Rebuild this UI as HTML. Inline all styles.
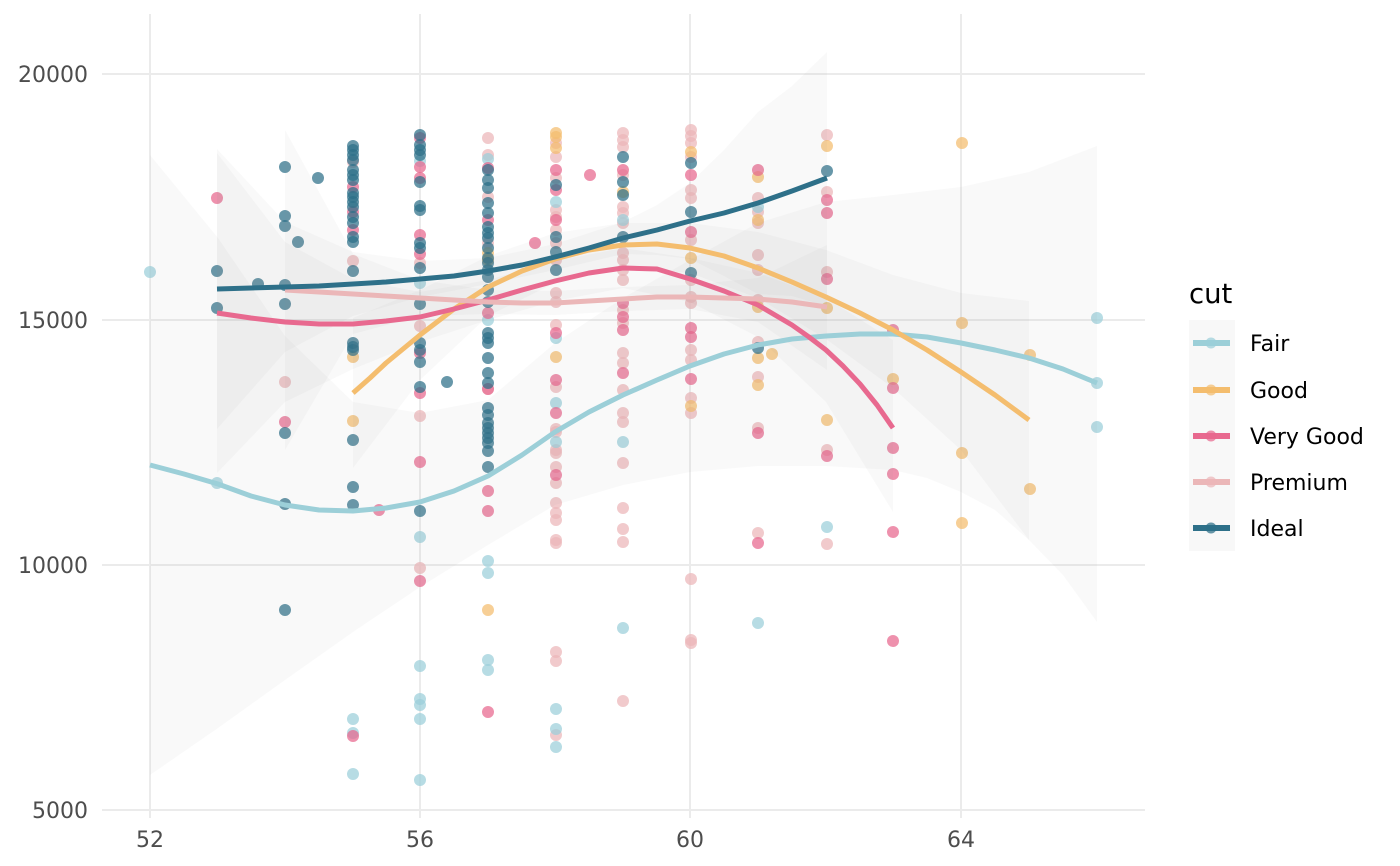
<!DOCTYPE html>
<html><head><meta charset="utf-8"><style>
html,body{margin:0;padding:0;background:#fff;}
svg{display:block;}
text{font-family:"DejaVu Sans","Liberation Sans",sans-serif;}
</style></head><body>
<svg width="1400" height="866" viewBox="0 0 1400 866" xmlns="http://www.w3.org/2000/svg">
<rect width="1400" height="866" fill="#fff"/>
<!-- grid -->
<g stroke="#ebebeb" stroke-width="2">
<line x1="102" y1="74" x2="1145" y2="74"/>
<line x1="102" y1="320" x2="1145" y2="320"/>
<line x1="102" y1="565" x2="1145" y2="565"/>
<line x1="102" y1="810" x2="1145" y2="810"/>
<line x1="150" y1="14" x2="150" y2="818"/>
<line x1="420" y1="14" x2="420" y2="818"/>
<line x1="690" y1="14" x2="690" y2="818"/>
<line x1="961" y1="14" x2="961" y2="818"/>
</g>
<!-- points -->
<g fill-opacity="0.72">
<g fill="#ebb6b8">
<circle cx="285" cy="382" r="6"/><circle cx="353" cy="162" r="6"/><circle cx="353" cy="261" r="6"/>
<circle cx="420" cy="263" r="6"/><circle cx="420" cy="326" r="6"/><circle cx="420" cy="416" r="6"/><circle cx="420" cy="568" r="6"/>
<circle cx="488" cy="138" r="6"/><circle cx="488" cy="155" r="6"/><circle cx="488" cy="197" r="6"/><circle cx="488" cy="243" r="6"/><circle cx="488" cy="389" r="6"/>
<circle cx="556" cy="143" r="6"/><circle cx="556" cy="157" r="6"/><circle cx="556" cy="178" r="6"/><circle cx="556" cy="210" r="6"/><circle cx="556" cy="217" r="6"/><circle cx="556" cy="230" r="6"/><circle cx="556" cy="243" r="6"/><circle cx="556" cy="260" r="6"/><circle cx="556" cy="293" r="6"/><circle cx="556" cy="302" r="6"/><circle cx="556" cy="325" r="6"/><circle cx="556" cy="387" r="6"/><circle cx="556" cy="429" r="6"/><circle cx="556" cy="432" r="6"/><circle cx="556" cy="450" r="6"/><circle cx="556" cy="453" r="6"/><circle cx="556" cy="467" r="6"/><circle cx="556" cy="483" r="6"/><circle cx="556" cy="503" r="6"/><circle cx="556" cy="513" r="6"/><circle cx="556" cy="520" r="6"/><circle cx="556" cy="540" r="6"/><circle cx="556" cy="543" r="6"/><circle cx="556" cy="652" r="6"/><circle cx="556" cy="661" r="6"/><circle cx="556" cy="735" r="6"/>
<circle cx="623" cy="133" r="6"/><circle cx="623" cy="140" r="6"/><circle cx="623" cy="147" r="6"/><circle cx="623" cy="175" r="6"/><circle cx="623" cy="207" r="6"/><circle cx="623" cy="213" r="6"/><circle cx="623" cy="223" r="6"/><circle cx="623" cy="253" r="6"/><circle cx="623" cy="260" r="6"/><circle cx="623" cy="270" r="6"/><circle cx="623" cy="280" r="6"/><circle cx="623" cy="310" r="6"/><circle cx="623" cy="323" r="6"/><circle cx="623" cy="353" r="6"/><circle cx="623" cy="363" r="6"/><circle cx="623" cy="390" r="6"/><circle cx="623" cy="413" r="6"/><circle cx="623" cy="422" r="6"/><circle cx="623" cy="463" r="6"/><circle cx="623" cy="508" r="6"/><circle cx="623" cy="529" r="6"/><circle cx="623" cy="542" r="6"/><circle cx="623" cy="701" r="6"/>
<circle cx="691" cy="130" r="6"/><circle cx="691" cy="136" r="6"/><circle cx="691" cy="143" r="6"/><circle cx="691" cy="157" r="6"/><circle cx="691" cy="190" r="6"/><circle cx="691" cy="198" r="6"/><circle cx="691" cy="240" r="6"/><circle cx="691" cy="280" r="6"/><circle cx="691" cy="297" r="6"/><circle cx="691" cy="303" r="6"/><circle cx="691" cy="350" r="6"/><circle cx="691" cy="360" r="6"/><circle cx="691" cy="398" r="6"/><circle cx="691" cy="413" r="6"/><circle cx="691" cy="579" r="6"/><circle cx="691" cy="640" r="6"/><circle cx="691" cy="643" r="6"/>
<circle cx="758" cy="198" r="6"/><circle cx="758" cy="212" r="6"/><circle cx="758" cy="223" r="6"/><circle cx="758" cy="255" r="6"/><circle cx="758" cy="270" r="6"/><circle cx="758" cy="300" r="6"/><circle cx="758" cy="342" r="6"/><circle cx="758" cy="377" r="6"/><circle cx="758" cy="428" r="6"/><circle cx="758" cy="533" r="6"/>
<circle cx="827" cy="135" r="6"/><circle cx="827" cy="192" r="6"/><circle cx="827" cy="272" r="6"/><circle cx="827" cy="450" r="6"/><circle cx="827" cy="544" r="6"/>
</g>
<g fill="#9bcfd9">
<circle cx="150" cy="272" r="6"/><circle cx="217" cy="483" r="6"/>
<circle cx="353" cy="719" r="6"/><circle cx="353" cy="733" r="6"/><circle cx="353" cy="774" r="6"/>
<circle cx="420" cy="161" r="6"/><circle cx="420" cy="283" r="6"/><circle cx="420" cy="537" r="6"/><circle cx="420" cy="666" r="6"/><circle cx="420" cy="699" r="6"/><circle cx="420" cy="705" r="6"/><circle cx="420" cy="719" r="6"/><circle cx="420" cy="780" r="6"/>
<circle cx="488" cy="159" r="6"/><circle cx="488" cy="320" r="6"/><circle cx="488" cy="561" r="6"/><circle cx="488" cy="573" r="6"/><circle cx="488" cy="660" r="6"/><circle cx="488" cy="670" r="6"/>
<circle cx="556" cy="202" r="6"/><circle cx="556" cy="338" r="6"/><circle cx="556" cy="403" r="6"/><circle cx="556" cy="442" r="6"/><circle cx="556" cy="709" r="6"/><circle cx="556" cy="729" r="6"/><circle cx="556" cy="747" r="6"/>
<circle cx="623" cy="220" r="6"/><circle cx="623" cy="442" r="6"/><circle cx="623" cy="628" r="6"/>
<circle cx="758" cy="207" r="6"/><circle cx="758" cy="623" r="6"/><circle cx="827" cy="527" r="6"/>
<circle cx="1097" cy="318" r="6"/><circle cx="1097" cy="383" r="6"/><circle cx="1097" cy="427" r="6"/>
</g>
<g fill="#f4bd6e">
<circle cx="353" cy="357" r="6"/><circle cx="353" cy="421" r="6"/>
<circle cx="488" cy="253" r="6"/><circle cx="488" cy="260" r="6"/><circle cx="488" cy="610" r="6"/>
<circle cx="556" cy="133" r="6"/><circle cx="556" cy="137" r="6"/><circle cx="556" cy="148" r="6"/><circle cx="556" cy="357" r="6"/>
<circle cx="623" cy="192" r="6"/>
<circle cx="691" cy="152" r="6"/><circle cx="691" cy="258" r="6"/><circle cx="691" cy="406" r="6"/>
<circle cx="758" cy="177" r="6"/><circle cx="758" cy="220" r="6"/><circle cx="758" cy="307" r="6"/><circle cx="758" cy="358" r="6"/><circle cx="758" cy="385" r="6"/><circle cx="772" cy="354" r="6"/>
<circle cx="827" cy="146" r="6"/><circle cx="827" cy="308" r="6"/><circle cx="827" cy="420" r="6"/>
<circle cx="893" cy="379" r="6"/>
<circle cx="962" cy="143" r="6"/><circle cx="962" cy="323" r="6"/><circle cx="962" cy="453" r="6"/><circle cx="962" cy="523" r="6"/>
<circle cx="1030" cy="355" r="6"/><circle cx="1030" cy="489" r="6"/>
</g>
<g fill="#e8668d">
<circle cx="217" cy="198" r="6"/><circle cx="285" cy="422" r="6"/>
<circle cx="353" cy="187" r="6"/><circle cx="353" cy="212" r="6"/><circle cx="353" cy="230" r="6"/><circle cx="353" cy="736" r="6"/><circle cx="379" cy="510" r="6"/>
<circle cx="420" cy="138" r="6"/><circle cx="420" cy="167" r="6"/><circle cx="420" cy="178" r="6"/><circle cx="420" cy="235" r="6"/><circle cx="420" cy="254" r="6"/><circle cx="420" cy="353" r="6"/><circle cx="420" cy="393" r="6"/><circle cx="420" cy="462" r="6"/><circle cx="420" cy="581" r="6"/>
<circle cx="488" cy="168" r="6"/><circle cx="488" cy="220" r="6"/><circle cx="488" cy="313" r="6"/><circle cx="488" cy="389" r="6"/><circle cx="488" cy="491" r="6"/><circle cx="488" cy="511" r="6"/><circle cx="488" cy="712" r="6"/>
<circle cx="535" cy="243" r="6"/>
<circle cx="556" cy="170" r="6"/><circle cx="556" cy="190" r="6"/><circle cx="556" cy="220" r="6"/><circle cx="556" cy="333" r="6"/><circle cx="556" cy="380" r="6"/><circle cx="556" cy="413" r="6"/><circle cx="556" cy="475" r="6"/>
<circle cx="590" cy="175" r="6"/>
<circle cx="623" cy="170" r="6"/><circle cx="623" cy="303" r="6"/><circle cx="623" cy="317" r="6"/><circle cx="623" cy="330" r="6"/><circle cx="623" cy="373" r="6"/>
<circle cx="691" cy="175" r="6"/><circle cx="691" cy="232" r="6"/><circle cx="691" cy="328" r="6"/><circle cx="691" cy="337" r="6"/><circle cx="691" cy="379" r="6"/>
<circle cx="758" cy="170" r="6"/><circle cx="758" cy="433" r="6"/><circle cx="758" cy="543" r="6"/>
<circle cx="827" cy="200" r="6"/><circle cx="827" cy="213" r="6"/><circle cx="827" cy="279" r="6"/><circle cx="827" cy="456" r="6"/>
<circle cx="893" cy="330" r="6"/><circle cx="893" cy="388" r="6"/><circle cx="893" cy="448" r="6"/><circle cx="893" cy="474" r="6"/><circle cx="893" cy="532" r="6"/><circle cx="893" cy="641" r="6"/>
</g>
<g fill="#2d6f88">
<circle cx="217" cy="271" r="6"/><circle cx="217" cy="308" r="6"/><circle cx="258" cy="284" r="6"/>
<circle cx="285" cy="167" r="6"/><circle cx="285" cy="216" r="6"/><circle cx="285" cy="226" r="6"/><circle cx="285" cy="285" r="6"/><circle cx="285" cy="304" r="6"/><circle cx="285" cy="433" r="6"/><circle cx="285" cy="504" r="6"/><circle cx="285" cy="610" r="6"/>
<circle cx="298" cy="242" r="6"/><circle cx="318" cy="178" r="6"/>
<circle cx="353" cy="146" r="6"/><circle cx="353" cy="150" r="6"/><circle cx="353" cy="155" r="6"/><circle cx="353" cy="160" r="6"/><circle cx="353" cy="170" r="6"/><circle cx="353" cy="175" r="6"/><circle cx="353" cy="180" r="6"/><circle cx="353" cy="193" r="6"/><circle cx="353" cy="197" r="6"/><circle cx="353" cy="202" r="6"/><circle cx="353" cy="207" r="6"/><circle cx="353" cy="217" r="6"/><circle cx="353" cy="223" r="6"/><circle cx="353" cy="237" r="6"/><circle cx="353" cy="242" r="6"/><circle cx="353" cy="271" r="6"/><circle cx="353" cy="343" r="6"/><circle cx="353" cy="347" r="6"/><circle cx="353" cy="350" r="6"/><circle cx="353" cy="440" r="6"/><circle cx="353" cy="487" r="6"/><circle cx="353" cy="505" r="6"/>
<circle cx="420" cy="135" r="6"/><circle cx="420" cy="145" r="6"/><circle cx="420" cy="150" r="6"/><circle cx="420" cy="155" r="6"/><circle cx="420" cy="182" r="6"/><circle cx="420" cy="206" r="6"/><circle cx="420" cy="210" r="6"/><circle cx="420" cy="243" r="6"/><circle cx="420" cy="248" r="6"/><circle cx="420" cy="268" r="6"/><circle cx="420" cy="304" r="6"/><circle cx="420" cy="343" r="6"/><circle cx="420" cy="350" r="6"/><circle cx="420" cy="362" r="6"/><circle cx="420" cy="387" r="6"/><circle cx="420" cy="511" r="6"/>
<circle cx="447" cy="382" r="6"/>
<circle cx="488" cy="170" r="6"/><circle cx="488" cy="180" r="6"/><circle cx="488" cy="188" r="6"/><circle cx="488" cy="203" r="6"/><circle cx="488" cy="213" r="6"/><circle cx="488" cy="227" r="6"/><circle cx="488" cy="233" r="6"/><circle cx="488" cy="238" r="6"/><circle cx="488" cy="248" r="6"/><circle cx="488" cy="258" r="6"/><circle cx="488" cy="263" r="6"/><circle cx="488" cy="270" r="6"/><circle cx="488" cy="277" r="6"/><circle cx="488" cy="290" r="6"/><circle cx="488" cy="302" r="6"/><circle cx="488" cy="333" r="6"/><circle cx="488" cy="338" r="6"/><circle cx="488" cy="343" r="6"/><circle cx="488" cy="358" r="6"/><circle cx="488" cy="373" r="6"/><circle cx="488" cy="383" r="6"/><circle cx="488" cy="408" r="6"/><circle cx="488" cy="415" r="6"/><circle cx="488" cy="423" r="6"/><circle cx="488" cy="428" r="6"/><circle cx="488" cy="433" r="6"/><circle cx="488" cy="438" r="6"/><circle cx="488" cy="443" r="6"/><circle cx="488" cy="451" r="6"/><circle cx="488" cy="467" r="6"/>
<circle cx="556" cy="185" r="6"/><circle cx="556" cy="237" r="6"/><circle cx="556" cy="252" r="6"/><circle cx="556" cy="270" r="6"/>
<circle cx="623" cy="157" r="6"/><circle cx="623" cy="182" r="6"/><circle cx="623" cy="195" r="6"/><circle cx="623" cy="237" r="6"/>
<circle cx="691" cy="163" r="6"/><circle cx="691" cy="212" r="6"/><circle cx="691" cy="273" r="6"/>
<circle cx="758" cy="348" r="6"/><circle cx="827" cy="171" r="6"/>
</g>
</g>
<!-- ribbons -->
<g fill="#999" fill-opacity="0.055">
<polygon points="150,155 218,238 285,336 353,402 420,413 488,400 555,343 623,298 690,260 758,223 826,202 893,195 961,187 1029,172 1097,146 1097,622 1063,575 1029,540 995,510 961,492 927,478 893,470 826,466 758,466 690,472 623,485 555,505 488,545 420,587 353,632 285,680 218,728 150,775"/>
<polygon points="353,318 420,290 488,256 555,233 623,223 690,223 758,232 826,250 893,275 961,293 1029,301 1029,540 961,450 893,388 826,339 758,298 690,273 623,267 555,283 488,316 420,380 353,468"/>
<polygon points="217,153 285,242 353,279 420,292 488,280 555,261 623,248 690,258 758,273 826,298 893,340 893,512 826,402 758,337 690,302 623,288 555,301 488,320 420,342 353,369 285,402 217,473"/>
<polygon points="285,130 353,254 420,280 488,290 555,291 623,287 690,285 758,278 827,245 827,370 758,322 690,309 623,311 555,315 488,314 420,316 353,334 285,450"/>
<polygon points="217,149 285,222 353,252 420,261 488,258 555,244 623,222 657,205 690,183 724,150 758,112 792,86 827,52 827,306 792,296 758,294 724,276 690,259 657,255 623,254 555,270 488,284 420,297 353,316 285,352 217,429"/>
</g>
<!-- lines -->
<g fill="none" stroke-width="5" stroke-linejoin="round" stroke-linecap="butt">
<polyline stroke="#9ccfd8" points="150,465 184,474 218,484 251,496 285,505 319,510 353,511 386,508 420,502 454,491 488,476 522,455 555,432 589,412 623,395 657,380 690,366 724,354 758,345 792,339 826,336 860,334 893,334 927,337 961,343 995,350 1029,358 1063,369 1097,383"/>
<polyline stroke="#f4bd6e" points="353,393 370,378 386,363 403,349 420,335 454,309 488,287 522,271 555,259 589,250 623,245 657,244 690,248 724,256 758,268 792,282 826,297 860,313 893,330 927,350 961,372 995,395 1029,420"/>
<polyline stroke="#e8698f" points="217,313 251,318 285,322 319,324 353,324 386,321 420,317 454,309 488,300 522,290 555,281 589,273 623,268 657,269 690,279 724,291 758,305 792,325 809,337 826,350 843,366 860,384 877,405 893,428"/>
<polyline stroke="#ebb7b8" points="285,290 319,292 353,294 386,296 420,298 454,300 488,302 522,303 555,303 589,301 623,299 657,297 690,297 724,298 758,299 792,302 827,307"/>
<polyline stroke="#2e7089" points="217,289 251,288 285,287 319,286 353,284 386,282 420,279 454,276 488,271 522,265 555,257 589,248 623,238 657,230 690,221 724,213 758,203 792,191 827,178"/>
</g>
<!-- axis labels -->
<g font-size="22" fill="#4d4d4d">
<text x="88" y="82" text-anchor="end">20000</text>
<text x="88" y="328" text-anchor="end">15000</text>
<text x="88" y="573" text-anchor="end">10000</text>
<text x="88" y="818" text-anchor="end">5000</text>
<text x="150" y="847" text-anchor="middle">52</text>
<text x="420" y="847" text-anchor="middle">56</text>
<text x="690" y="847" text-anchor="middle">60</text>
<text x="961" y="847" text-anchor="middle">64</text>
</g>
<!-- legend -->
<text x="1189" y="303" font-size="27.5" fill="#000">cut</text>
<rect x="1189" y="320" width="46" height="231" fill="#f8f8f8"/>
<g stroke-width="6">
<line x1="1193" y1="343" x2="1230" y2="343" stroke="#9ccfd8"/>
<line x1="1193" y1="390" x2="1230" y2="390" stroke="#f4bd6e"/>
<line x1="1193" y1="436" x2="1230" y2="436" stroke="#e8698f"/>
<line x1="1193" y1="482" x2="1230" y2="482" stroke="#ebb7b8"/>
<line x1="1193" y1="528" x2="1230" y2="528" stroke="#2e7089"/>
</g>
<g fill-opacity="0.72">
<circle cx="1211" cy="343" r="5.5" fill="#9bcfd9"/>
<circle cx="1211" cy="390" r="5.5" fill="#f4bd6e"/>
<circle cx="1211" cy="436" r="5.5" fill="#e8668d"/>
<circle cx="1211" cy="482" r="5.5" fill="#ebb6b8"/>
<circle cx="1211" cy="528" r="5.5" fill="#2d6f88"/>
</g>
<g font-size="22" fill="#000">
<text x="1250" y="351">Fair</text>
<text x="1250" y="398">Good</text>
<text x="1250" y="444">Very Good</text>
<text x="1250" y="490">Premium</text>
<text x="1250" y="536">Ideal</text>
</g>
</svg>
</body></html>
